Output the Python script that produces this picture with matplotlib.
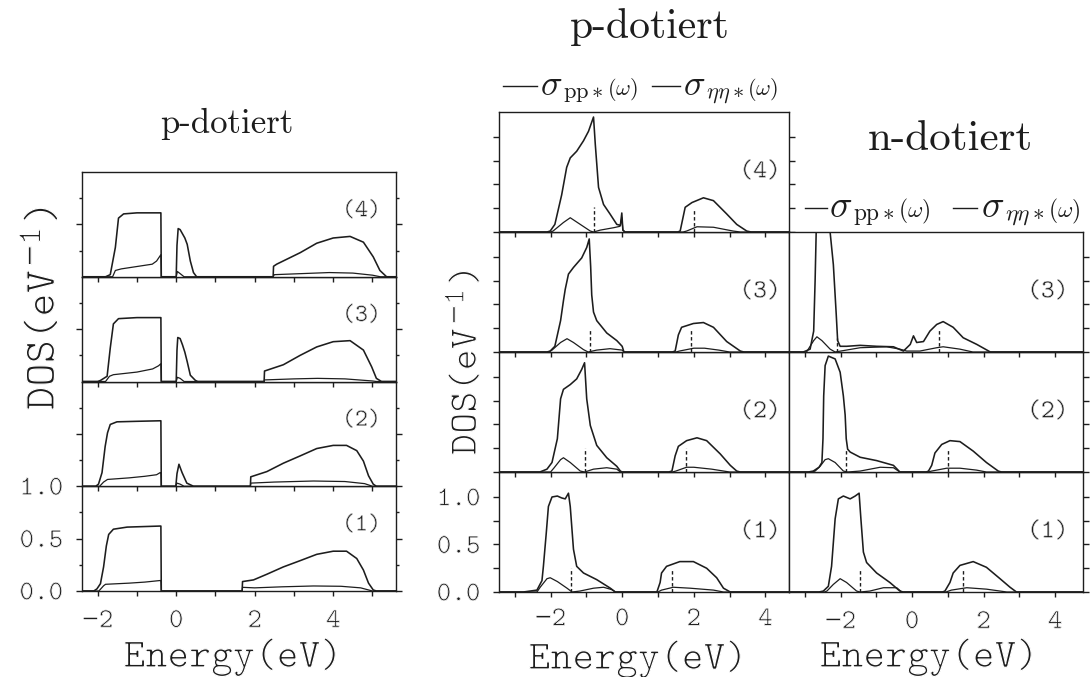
import matplotlib
matplotlib.use("Agg")
import matplotlib.pyplot as plt
import matplotlib.patheffects as pe
from matplotlib.lines import Line2D

# ---------------------------------------------------------------
# DOS curves, (energy [eV], DOS [1/eV]) pairs.
# PP = sigma_pp*(omega), NN = sigma_eta eta*(omega), MU = dashed markers (energy, height)
# ---------------------------------------------------------------

# p-dotiert, left block
L1_PP = [(-2.4, 0), (-2.1, 0), (-2.02, 0.02), (-1.93, 0.07), (-1.85, 0.23), (-1.78, 0.43), (-1.72, 0.54),
         (-1.6, 0.59), (-1.25, 0.61), (-0.41, 0.62), (-0.39, 0.62), (-0.38, 0), (1.68, 0), (1.69, 0.09),
         (1.97, 0.106), (2.31, 0.16), (2.73, 0.23), (3.16, 0.29), (3.58, 0.35), (4.0, 0.38), (4.34, 0.38),
         (4.6, 0.31), (4.77, 0.2), (4.9, 0.075), (5.02, 0.01), (5.1, 0), (5.6, 0)]
L1_NN = [(-2.4, 0), (-1.97, 0), (-1.85, 0.05), (-1.8, 0.064), (-1.2, 0.075), (-0.8, 0.085), (-0.41, 0.1),
         (-0.39, 0.1), (-0.38, 0), (1.68, 0), (1.69, 0.035), (2.0, 0.03), (2.7, 0.04), (3.5, 0.048),
         (4.2, 0.045), (4.7, 0.03), (5.0, 0), (5.6, 0)]

L2_PP = [(-2.4, 0), (-2.05, 0), (-1.98, 0.02), (-1.89, 0.13), (-1.81, 0.38), (-1.75, 0.51), (-1.68, 0.59),
         (-1.51, 0.615), (-1.0, 0.62), (-0.41, 0.625), (-0.39, 0.625), (-0.38, 0), (-0.01, 0), (0.02, 0.12),
         (0.07, 0.21), (0.15, 0.13), (0.27, 0.03), (0.44, 0), (1.89, 0), (1.9, 0.09), (2.31, 0.14),
         (2.73, 0.22), (3.16, 0.29), (3.58, 0.36), (4.0, 0.39), (4.34, 0.39), (4.6, 0.34), (4.77, 0.24),
         (4.9, 0.1), (5.02, 0.02), (5.1, 0), (5.6, 0)]
L2_NN = [(-2.4, 0), (-1.95, 0), (-1.85, 0.04), (-1.75, 0.065), (-1.2, 0.08), (-0.8, 0.095), (-0.5, 0.11),
         (-0.41, 0.13), (-0.39, 0.13), (-0.38, 0), (-0.01, 0), (0.02, 0.03), (0.1, 0.02), (0.2, 0),
         (1.89, 0), (1.9, 0.03), (2.5, 0.04), (3.5, 0.05), (4.3, 0.045), (4.8, 0.025), (5.0, 0), (5.6, 0)]

L3_PP = [(-2.4, 0), (-2.0, 0), (-1.93, 0.01), (-1.76, 0.05), (-1.68, 0.32), (-1.6, 0.55), (-1.47, 0.6),
         (-1.0, 0.61), (-0.41, 0.61), (-0.39, 0.61), (-0.38, 0), (0.0, 0), (0.02, 0.3), (0.04, 0.42),
         (0.1, 0.41), (0.16, 0.35), (0.22, 0.28), (0.28, 0.19), (0.36, 0.06), (0.49, 0.01), (0.55, 0),
         (2.24, 0), (2.25, 0.1), (2.73, 0.16), (3.16, 0.25), (3.58, 0.33), (4.0, 0.38), (4.43, 0.39),
         (4.77, 0.3), (4.98, 0.14), (5.1, 0.03), (5.23, 0), (5.6, 0)]
L3_NN = [(-2.4, 0), (-1.8, 0), (-1.7, 0.05), (-1.6, 0.065), (-1.0, 0.09), (-0.6, 0.12), (-0.45, 0.15),
         (-0.39, 0.17), (-0.38, 0), (0.0, 0), (0.03, 0.04), (0.1, 0.03), (0.2, 0), (2.24, 0), (2.25, 0.015),
         (3.0, 0.025), (3.6, 0.03), (4.3, 0.025), (5.0, 0.005), (5.1, 0), (5.6, 0)]

L4_PP = [(-2.4, 0), (-1.8, 0), (-1.68, 0.02), (-1.55, 0.28), (-1.47, 0.56), (-1.34, 0.6), (-1.0, 0.61),
         (-0.41, 0.61), (-0.39, 0.61), (-0.38, 0), (0.0, 0), (0.02, 0.3), (0.05, 0.46), (0.1, 0.45),
         (0.16, 0.41), (0.22, 0.37), (0.28, 0.31), (0.36, 0.15), (0.44, 0.04), (0.52, 0), (2.47, 0),
         (2.48, 0.1), (2.56, 0.12), (3.16, 0.23), (3.58, 0.32), (4.0, 0.37), (4.43, 0.385), (4.77, 0.33),
         (5.02, 0.19), (5.19, 0.06), (5.36, 0), (5.6, 0)]
L4_NN = [(-2.4, 0), (-1.62, 0), (-1.55, 0.06), (-1.4, 0.075), (-0.61, 0.12), (-0.5, 0.15), (-0.41, 0.2),
         (-0.39, 0.21), (-0.38, 0), (0.0, 0), (0.03, 0.05), (0.1, 0.03), (0.2, 0), (2.47, 0), (2.5, 0.02),
         (3.2, 0.03), (3.9, 0.04), (4.5, 0.035), (5.0, 0.015), (5.2, 0), (5.6, 0)]

# p-dotiert, middle block
M1_PP = [(-3.44, 0), (-2.76, 0), (-2.38, 0.02), (-2.24, 0.12), (-2.2, 0.27), (-2.12, 0.62), (-2.06, 0.9),
         (-1.96, 1.0), (-1.81, 1.01), (-1.69, 0.99), (-1.59, 0.98), (-1.5, 1.04), (-1.45, 0.9), (-1.36, 0.45),
         (-1.27, 0.27), (-1.08, 0.2), (-0.71, 0.13), (-0.33, 0.04), (-0.19, 0), (0.97, 0), (1.06, 0.1),
         (1.1, 0.2), (1.24, 0.27), (1.61, 0.32), (1.99, 0.32), (2.36, 0.25), (2.64, 0.15), (2.83, 0.04),
         (3.02, 0), (4.66, 0)]
M1_NN = [(-3.44, 0), (-2.38, 0), (-2.29, 0.05), (-2.1, 0.14), (-2.01, 0.15), (-1.81, 0.11), (-1.54, 0.04),
         (-1.4, 0), (-1.18, 0.01), (-0.8, 0.04), (-0.52, 0.05), (-0.29, 0.025), (-0.19, 0), (1.0, 0),
         (1.1, 0.02), (1.43, 0.05), (1.9, 0.04), (2.55, 0.02), (2.83, 0), (4.66, 0)]
M1_MU = [(-1.43, 0.25), (1.39, 0.23)]

M2_PP = [(-3.44, 0), (-2.3, 0), (-2.1, 0.03), (-1.96, 0.1), (-1.81, 0.35), (-1.72, 0.77), (-1.64, 0.87),
         (-1.45, 0.92), (-1.27, 0.98), (-1.13, 1.08), (-1.05, 1.15), (-0.99, 0.77), (-0.89, 0.49),
         (-0.71, 0.28), (-0.43, 0.15), (-0.15, 0.06), (-0.05, 0.01), (0.0, 0), (1.3, 0), (1.39, 0.01),
         (1.48, 0.17), (1.57, 0.27), (1.8, 0.33), (2.09, 0.36), (2.36, 0.33), (2.74, 0.19), (3.02, 0.07),
         (3.2, 0.01), (3.3, 0), (4.66, 0)]
M2_NN = [(-3.44, 0), (-2.0, 0), (-1.91, 0.04), (-1.72, 0.13), (-1.64, 0.15), (-1.45, 0.1), (-1.17, 0.01),
         (-1.05, 0), (-0.8, 0.03), (-0.43, 0.045), (-0.15, 0.03), (-0.05, 0), (1.4, 0), (1.5, 0.01),
         (1.8, 0.05), (2.0, 0.05), (2.5, 0.03), (3.0, 0), (4.66, 0)]
M2_MU = [(-1.03, 0.25), (1.79, 0.25)]

M3_PP = [(-3.44, 0), (-2.1, 0), (-2.01, 0.01), (-1.88, 0.06), (-1.72, 0.33), (-1.64, 0.54), (-1.59, 0.66),
         (-1.5, 0.82), (-1.36, 0.89), (-1.13, 0.99), (-0.99, 1.1), (-0.92, 1.19), (-0.88, 0.9), (-0.85, 0.6),
         (-0.8, 0.42), (-0.71, 0.33), (-0.43, 0.2), (-0.15, 0.12), (0.0, 0.06), (0.05, 0), (1.4, 0),
         (1.48, 0.01), (1.57, 0.18), (1.66, 0.26), (1.99, 0.3), (2.27, 0.31), (2.55, 0.26), (2.92, 0.11),
         (3.3, 0.01), (3.4, 0), (4.66, 0)]
M3_NN = [(-3.44, 0), (-2.05, 0), (-1.96, 0.02), (-1.72, 0.1), (-1.54, 0.14), (-1.36, 0.1), (-1.08, 0.025),
         (-0.95, 0), (-0.71, 0.02), (-0.34, 0.035), (0.0, 0.02), (0.05, 0), (1.5, 0), (1.6, 0.01),
         (2.0, 0.04), (2.3, 0.04), (2.7, 0.02), (3.0, 0), (4.66, 0)]
M3_MU = [(-0.91, 0.24), (1.92, 0.24)]

M4_PP = [(-3.44, 0), (-2.1, 0), (-2.01, 0.01), (-1.88, 0.08), (-1.69, 0.39), (-1.55, 0.68), (-1.45, 0.78),
         (-1.27, 0.85), (-1.08, 0.96), (-0.94, 1.06), (-0.8, 1.21), (-0.75, 0.92), (-0.66, 0.47),
         (-0.52, 0.29), (-0.34, 0.19), (-0.15, 0.08), (-0.05, 0.07), (-0.01, 0.2), (0.02, 0.02), (0.08, 0),
         (1.55, 0), (1.62, 0.01), (1.76, 0.26), (1.95, 0.31), (2.27, 0.36), (2.55, 0.33), (2.92, 0.19),
         (3.2, 0.08), (3.48, 0.01), (3.6, 0), (4.66, 0)]
M4_NN = [(-3.44, 0), (-2.0, 0), (-1.93, 0.01), (-1.64, 0.1), (-1.45, 0.15), (-1.17, 0.08), (-0.89, 0.01),
         (-0.8, 0), (-0.61, 0.02), (-0.24, 0.045), (-0.06, 0.06), (-0.01, 0.15), (0.02, 0.02), (0.08, 0),
         (1.7, 0), (1.8, 0.01), (2.09, 0.055), (2.55, 0.05), (3.1, 0.01), (3.3, 0), (4.66, 0)]
M4_MU = [(-0.8, 0.26), (2.01, 0.24)]

# n-dotiert, right block
R1_PP = [(-3.44, 0), (-2.6, 0), (-2.48, 0.01), (-2.34, 0.06), (-2.25, 0.27), (-2.15, 0.77), (-2.06, 0.98),
         (-1.92, 1.01), (-1.73, 0.98), (-1.59, 1.01), (-1.48, 1.04), (-1.43, 0.77), (-1.36, 0.42),
         (-1.27, 0.31), (-0.99, 0.2), (-0.62, 0.1), (-0.34, 0.01), (-0.25, 0), (0.85, 0), (0.92, 0.01),
         (1.06, 0.1), (1.15, 0.2), (1.34, 0.28), (1.71, 0.32), (2.08, 0.26), (2.46, 0.14), (2.74, 0.05),
         (2.92, 0), (4.78, 0)]
R1_NN = [(-3.44, 0), (-2.45, 0), (-2.38, 0.01), (-2.2, 0.08), (-2.01, 0.14), (-1.83, 0.1), (-1.55, 0.01),
         (-1.45, 0), (-1.18, 0.01), (-0.8, 0.045), (-0.43, 0.045), (-0.29, 0), (0.95, 0), (1.1, 0.02),
         (1.53, 0.045), (2.08, 0.03), (2.46, 0.01), (2.65, 0), (4.78, 0)]
R1_MU = [(-1.45, 0.24), (1.42, 0.23)]

R2_PP = [(-3.44, 0), (-2.9, 0), (-2.76, 0.01), (-2.6, 0.05), (-2.52, 0.1), (-2.49, 0.35), (-2.47, 0.8),
         (-2.43, 1.12), (-2.34, 1.22), (-2.15, 1.19), (-2.01, 1.05), (-1.92, 0.8), (-1.87, 0.6),
         (-1.84, 0.35), (-1.8, 0.24), (-1.73, 0.21), (-1.45, 0.155), (-0.99, 0.12), (-0.52, 0.07),
         (-0.34, 0), (0.4, 0), (0.46, 0.01), (0.55, 0.07), (0.64, 0.2), (0.83, 0.29), (1.06, 0.33),
         (1.34, 0.32), (1.71, 0.22), (2.08, 0.1), (2.41, 0.01), (2.5, 0), (4.78, 0)]
R2_NN = [(-3.44, 0), (-2.8, 0), (-2.71, 0.01), (-2.57, 0.06), (-2.43, 0.13), (-2.34, 0.14), (-2.15, 0.1),
         (-1.92, 0.01), (-1.8, 0), (-1.45, 0.01), (-0.89, 0.05), (-0.52, 0.045), (-0.34, 0), (0.45, 0),
         (0.55, 0.01), (0.97, 0.04), (1.34, 0.04), (1.8, 0.02), (2.08, 0), (4.78, 0)]
R2_MU = [(-1.85, 0.24), (1.01, 0.24)]

R3_PP = [(-3.44, 0), (-3.04, 0), (-2.85, 0.03), (-2.75, 0.22), (-2.71, 0.75), (-2.68, 1.26), (-2.62, 1.6),
         (-2.45, 1.65), (-2.33, 1.5), (-2.29, 1.26), (-2.2, 0.92), (-2.12, 0.4), (-2.08, 0.12),
         (-2.01, 0.06), (-1.83, 0.06), (-1.45, 0.07), (-0.99, 0.06), (-0.52, 0.055), (-0.24, 0.01),
         (-0.05, 0.08), (0.04, 0.17), (0.13, 0.1), (0.32, 0.11), (0.5, 0.22), (0.69, 0.29), (0.87, 0.32),
         (1.15, 0.26), (1.43, 0.15), (1.81, 0.08), (2.19, 0), (4.78, 0)]
R3_NN = [(-3.44, 0), (-2.95, 0), (-2.75, 0.12), (-2.66, 0.16), (-2.52, 0.12), (-2.29, 0.03), (-2.15, 0),
         (-1.45, 0.045), (-0.71, 0.055), (-0.34, 0.03), (-0.15, 0.01), (0.22, 0.01), (0.69, 0.045),
         (0.87, 0.055), (1.34, 0.03), (1.7, 0), (4.78, 0)]
R3_MU = [(-2.09, 0.15), (0.75, 0.24)]

PANEL_TAGS = ["(1)", "(2)", "(3)", "(4)"]
X_TICKS_LEFT = [-2, -1, 0, 1, 2, 3, 4, 5]
X_TICKS_MID = [-3, -2, -1, 0, 1, 2, 3, 4]
X_TICK_LABELS = {-2: "\u22122", 0: "0", 2: "2", 4: "4"}

# ---------------------------------------------------------------
W, H = 1091, 677
INK = "#1d1d1d"
TT = ["cmtt10", "DejaVu Sans Mono"]
# thin the typewriter glyphs slightly: fill, then a white rim on top
THIN = [pe.Normal(), pe.Stroke(linewidth=0.9, foreground="white")]
THIN_S = [pe.Normal(), pe.Stroke(linewidth=0.6, foreground="white")]
THIN_T = [pe.Normal(), pe.Stroke(linewidth=0.45, foreground="white")]

plt.rcParams["font.family"] = TT
plt.rcParams["axes.linewidth"] = 1.0
plt.rcParams["axes.unicode_minus"] = False

fig = plt.figure(figsize=(W / 100, H / 100), dpi=100)
fig.patch.set_facecolor("white")
renderer = fig.canvas.get_renderer()


def px_axes(x0, x1, ytop, ybot):
    return fig.add_axes([x0 / W, 1 - ybot / H, (x1 - x0) / W, (ybot - ytop) / H])


def unzip(pairs):
    return [p[0] for p in pairs], [p[1] for p in pairs]


def draw_panel(ax, pp, nn, mu, xlim, ymax):
    e, d = unzip(pp)
    ax.plot(e, d, color=INK, lw=1.15, solid_joinstyle="round")
    e, d = unzip(nn)
    ax.plot(e, d, color=INK, lw=0.9, solid_joinstyle="round")
    if mu:
        for em, hm in mu:
            ax.plot([em, em], [0, hm], color=INK, lw=1.0, linestyle=(0, (2.5, 1.8)))
    ax.set_xlim(*xlim)
    ax.set_ylim(0, ymax)
    for s in ax.spines.values():
        s.set_color(INK)


def thin_ticklabels(ax):
    for t in ax.get_xticklabels() + ax.get_yticklabels():
        t.set_path_effects(THIN_S)


def x_axis(ax, ticks, labelled, pad):
    ax.set_xticks(ticks)
    if labelled:
        ax.set_xticklabels([X_TICK_LABELS.get(t, "") for t in ticks])
    else:
        ax.set_xticklabels([])
    ax.tick_params(axis="x", direction="out", length=3.8, width=1.0, color=INK,
                   labelsize=20, pad=pad, top=False, bottom=True, labelcolor=INK)


# ---------------- left block: p-dotiert ----------------
left_panels = [(L1_PP, L1_NN), (L2_PP, L2_NN), (L3_PP, L3_NN), (L4_PP, L4_NN)]
LB, LH = 591, 104.75
for k, (pp, nn) in enumerate(left_panels):
    ax = px_axes(82, 396, LB - (k + 1) * LH, LB - k * LH)
    draw_panel(ax, pp, nn, None, (-2.4, 5.6), 1.0)
    x_axis(ax, X_TICKS_LEFT, k == 0, 10)
    if k == 0:
        ax.set_yticks([0.0, 0.5, 1.0])
        ax.set_yticklabels(["0.0", "0.5", "1.0"])
    else:
        ax.set_yticks([0.5])
        ax.set_yticklabels([])
    ax.set_yticks([0.25, 0.75], minor=True)
    ax.tick_params(axis="y", which="major", direction="out", length=4.5, width=1.0, color=INK,
                   left=True, right=True, labelsize=20, pad=9, labelcolor=INK)
    ax.tick_params(axis="y", which="minor", direction="out", length=2.5, width=1.0, color=INK,
                   left=True, right=True)
    thin_ticklabels(ax)
    ax.text(0.89, 0.62, PANEL_TAGS[k], transform=ax.transAxes, ha="center", va="center",
            fontsize=18, color=INK, path_effects=THIN_T)

# ---------------- middle block: p-dotiert ----------------
mid_panels = [(M1_PP, M1_NN, M1_MU), (M2_PP, M2_NN, M2_MU), (M3_PP, M3_NN, M3_MU), (M4_PP, M4_NN, M4_MU)]
MB, MH = 592, 120
for k, (pp, nn, mu) in enumerate(mid_panels):
    ax = px_axes(499, 789, MB - (k + 1) * MH, MB - k * MH)
    draw_panel(ax, pp, nn, mu, (-3.44, 4.66), 1.263)
    x_axis(ax, X_TICKS_MID, k == 0, 8)
    ax.set_yticks([0.0, 0.25, 0.5, 0.75, 1.0])
    ax.set_yticklabels(["0.0", "", "0.5", "", "1.0"] if k == 0 else [""] * 5)
    ax.tick_params(axis="y", direction="out", length=4.3, width=1.0, color=INK,
                   left=True, right=(k == 3), labelsize=20, pad=9, labelcolor=INK)
    thin_ticklabels(ax)
    ax.text(0.9, 0.5, PANEL_TAGS[k], transform=ax.transAxes, ha="center", va="center",
            fontsize=19, color=INK, path_effects=THIN_T)

# ---------------- right block: n-dotiert ----------------
right_panels = [(R1_PP, R1_NN, R1_MU), (R2_PP, R2_NN, R2_MU), (R3_PP, R3_NN, R3_MU)]
for k, (pp, nn, mu) in enumerate(right_panels):
    ax = px_axes(789, 1083, MB - (k + 1) * MH, MB - k * MH)
    draw_panel(ax, pp, nn, mu, (-3.44, 4.78), 1.263)
    x_axis(ax, X_TICKS_MID, k == 0, 10)
    ax.set_yticks([0.0, 0.25, 0.5, 0.75, 1.0])
    ax.set_yticklabels([])
    ax.tick_params(axis="y", direction="out", length=4.3, width=1.0, color=INK,
                   left=False, right=True)
    thin_ticklabels(ax)
    ax.text(0.88, 0.5, PANEL_TAGS[k], transform=ax.transAxes, ha="center", va="center",
            fontsize=19, color=INK, path_effects=THIN_T)

# ---------------- titles and axis labels ----------------
def ftext(x, y, s, **kw):
    return fig.text(x / W, 1 - y / H, s, color=INK, **kw)


ftext(227, 133, "p-dotiert", family="cmr10", fontsize=25, ha="center", va="baseline")
ftext(650, 38, "p-dotiert", family="cmr10", fontsize=30, ha="center", va="baseline")
ftext(950, 150, "n-dotiert", family="cmr10", fontsize=31, ha="center", va="baseline")

ftext(233, 657, "Energy(eV)", fontsize=30, ha="center", va="center", path_effects=THIN)
ftext(638, 659, "Energy(eV)", fontsize=30, ha="center", va="center", path_effects=THIN)
ftext(929, 657, "Energy(eV)", fontsize=30, ha="center", va="center", path_effects=THIN)


def dos_label(xb, y0, size):
    """Vertical 'DOS(eV^-1)', written bottom-up from (xb, y0) in pixels."""
    kw = dict(rotation=90, rotation_mode="anchor", ha="left", va="baseline", path_effects=THIN)
    t = ftext(xb, y0, "DOS(eV", fontsize=size, **kw)
    y = y0 - t.get_window_extent(renderer).height - 4
    t = ftext(xb - size * 0.42, y, "\u22121", fontsize=size * 0.78, **kw)
    y -= t.get_window_extent(renderer).height + 3
    ftext(xb, y, ")", fontsize=size, **kw)


dos_label(54, 410, 32)
dos_label(476, 455, 29)

# ---------------- legends ----------------
def legend_entry(xl0, xl1, yl, xt, yb, sub, size):
    fig.add_artist(Line2D([xl0 / W, xl1 / W], [1 - yl / H, 1 - yl / H], color=INK, lw=1.0))
    t = ftext(xt, yb, r"$\sigma$", fontsize=size, math_fontfamily="cm", ha="left", va="baseline")
    x = xt + t.get_window_extent(renderer).width + 1
    t = ftext(x, yb + 3, sub, fontsize=size * 0.62, math_fontfamily="cm", ha="left", va="baseline")
    x += t.get_window_extent(renderer).width + 3
    ftext(x, yb, r"$(\omega)$", fontsize=size * 0.62, math_fontfamily="cm", ha="left", va="baseline")


PP_SUB = r"$\mathrm{pp}\ast$"
NN_SUB = r"$\eta\eta\ast$"
legend_entry(503, 537, 86, 540, 95, PP_SUB, 26)
legend_entry(652, 680, 86, 683, 95, NN_SUB, 26)
legend_entry(805, 827, 208, 829, 217, PP_SUB, 27)
legend_entry(953, 977, 208, 981, 217, NN_SUB, 27)

fig.savefig("out.png", dpi=100, facecolor="white")
